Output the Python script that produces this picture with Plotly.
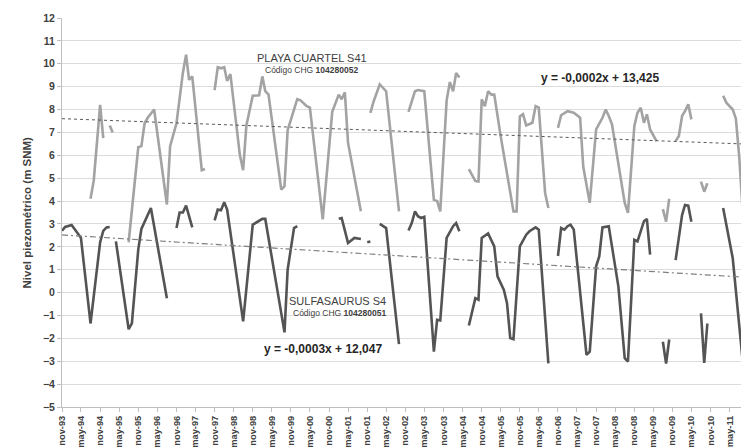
import pandas as pd
import plotly.graph_objects as go

# ---------------- data (months counted from nov-1993) ----------------
START = pd.Timestamp("1993-11-01")
END = pd.Timestamp("2011-08-19")

playa_month = [9, 10, 12, 13, None, 15, 16, None,
               21, 24, 25, 26, 27, 29, 33, 34, 36, 37, 38, 39, 40, 41, 44, 45, None,
               48, 49, 50, 51, 52, 53, 56, 57, 58, 60, 62, 63, 64, 65, 69, 70, 71, 74, 75, 77, 78,
               82, 85, 87, 88, 89, 90, 94, None,
               97, 98, 100, 102, 106, None,
               109, 111, 112, 114, 117, 118, 119, 121, 122, 123, 124, 125, None,
               128, 130, 131, 132, 133, 134, 135, 136, 138, 142, 143, 144, 145, 146, 148, 149, 150,
               152, 153, None,
               156, 157, 159, 161, 163, 164, 166, 168, 170, 171, 172, 173, 177, 178, 180, 181, 182,
               183, 184, 185, 187, None,
               189, 190, 191, None,
               193, 194, 195, 196, 197, 198, None,
               201, 202, 203, None,
               208, 209, 210, 211, 212, 213, 214]
playa_level = [4.1, 4.9, 8.2, 6.75, None, 7.3, 7.0, None,
               2.2, 6.35, 6.4, 7.4, 7.65, 8.0, 3.85, 6.4, 7.4, 8.6, 9.6, 10.4, 9.3, 9.45, 5.35, 5.4, None,
               8.85, 9.85, 9.8, 9.85, 9.25, 9.55, 6.0, 5.35, 7.3, 8.6, 8.62, 9.45, 8.8, 8.65, 4.5, 4.65,
               7.1, 8.45, 8.4, 8.15, 8.08, 3.2, 7.9, 8.65, 8.45, 8.75, 6.55, 3.55, None,
               7.85, 8.35, 9.1, 8.8, 3.55, None,
               7.9, 8.8, 8.85, 8.8, 4.05, 4.0, 3.55, 8.4, 9.2, 8.8, 9.6, 9.4, None,
               5.4, 4.87, 4.85, 8.45, 8.15, 8.8, 8.65, 8.65, 6.85, 3.55, 3.55, 7.7, 7.8, 7.3, 7.42,
               8.15, 8.08, 4.35, 3.7, None,
               7.2, 7.75, 7.93, 7.86, 7.64, 5.5, 3.92, 7.13, 7.64, 8.0, 7.72, 7.35, 3.92, 3.48, 7.28,
               7.86, 8.08, 7.42, 7.79, 7.13, 6.62, None,
               3.65, 3.1, 4.1, None,
               6.62, 6.84, 7.72, 7.93, 8.23, 7.57, None,
               4.85, 4.41, 4.78, None,
               8.6, 8.3, 8.15, 8.0, 7.6, 6.0, 3.8]

sulfa_month = [0, 1, 3, 5, 6, 9, 12, 13, 14, 15, None,
               17, 21, 22, 24, 25, 26, 28, 33, None,
               36, 37, 38, 39, 41, None,
               48, 49, 50, 51, 52, 57, 60, 63, 64, 70, 71, 73, 74, None,
               87, 88, 90, 92, 94, None,
               96, 97, None,
               100, 102, 106, None,
               109, 110, 111, 112, 113, 114, 117, 118, 119, 121, 123, 124, 125, None,
               128, 130, 131, 132, 134, 135, 136, 137, 139, 140, 141, 142, 144, 146, 147, 149, 150,
               153, None,
               156, 157, 158, 159, 160, 161, 165, 166, 168, 169, 170, 172, 175, 177, 178, 180, 181,
               183, 184, 185, None,
               189, 190, 191, None,
               193, 195, 196, 197, 198, None,
               201, 202, 203, None,
               208, 211, 214]
sulfa_level = [2.7, 2.87, 2.95, 2.55, 2.4, -1.35, 2.2, 2.7, 2.85, 2.87, None,
               2.24, -1.6, -1.35, 1.88, 2.78, 3.12, 3.7, -0.25, None,
               2.82, 3.5, 3.5, 3.8, 2.85, None,
               3.16, 3.63, 3.6, 3.95, 3.63, -1.26, 2.97, 3.22, 3.22, -1.74, 1.0, 2.82, 2.9, None,
               3.23, 3.26, 2.17, 2.39, 2.34, None,
               2.2, 2.23, None,
               3.0, 2.82, -2.25, None,
               2.71, 3.04, 3.55, 3.34, 3.26, 3.31, -2.58, -1.19, -1.22, 2.39, 2.9, 3.04, 2.68, None,
               -1.44, -0.24, -0.31, 2.39, 2.58, 2.31, 2.02, 0.71, 0.12, -0.46, -1.99, -2.04, 2.02,
               2.53, 2.68, 2.85, 2.75, -3.09, None,
               1.6, 2.82, 2.75, 2.9, 2.97, 2.75, -2.72, -2.58, 1.15, 1.58, 2.85, 2.9, 0.27, -2.87,
               -3.01, 2.31, 2.24, 3.12, 3.22, 1.66, None,
               -2.15, -3.1, -2.05, None,
               1.42, 3.39, 3.83, 3.8, 3.1, None,
               -0.91, -3.07, -1.35, None,
               3.7, 1.5, -2.85]

# linear trend lines (start / end values as drawn)
playa_trend = [7.6, 6.5]
sulfa_trend = [2.52, 0.68]

MESES = {1: "ene", 2: "feb", 3: "mar", 4: "abr", 5: "may", 6: "jun",
         7: "jul", 8: "ago", 9: "sep", 10: "oct", 11: "nov", 12: "dic"}
tick_months = list(range(0, 211, 6))


def to_dates(months):
    return [None if m is None else (START + pd.DateOffset(months=m)).strftime("%Y-%m-%d")
            for m in months]


tick_dates = to_dates(tick_months)
tick_text = [f"{MESES[d.month]}-{d.strftime('%y')}"
             for d in (START + pd.DateOffset(months=m) for m in tick_months)]
x_ends = [START.strftime("%Y-%m-%d"), END.strftime("%Y-%m-%d")]

FONT = "Liberation Sans, Arial, sans-serif"
TXT = "#404040"

fig = go.Figure()
fig.add_trace(go.Scatter(x=to_dates(playa_month), y=playa_level, mode="lines",
                         line=dict(color="#a3a3a3", width=2.6), connectgaps=False,
                         name="PLAYA CUARTEL S41"))
fig.add_trace(go.Scatter(x=to_dates(sulfa_month), y=sulfa_level, mode="lines",
                         line=dict(color="#545454", width=2.6), connectgaps=False,
                         name="SULFASAURUS S4"))
fig.add_trace(go.Scatter(x=x_ends, y=playa_trend, mode="lines",
                         line=dict(color="#595959", width=1, dash="dot")))
fig.add_trace(go.Scatter(x=x_ends, y=sulfa_trend, mode="lines",
                         line=dict(color="#7f7f7f", width=1.2, dash="6px,3px,2px,3px")))

annots = [
    dict(x=0.368, y=0.897, text="PLAYA CUARTEL S41", font=dict(size=11, color=TXT)),
    dict(x=0.368, y=0.866, text="Código CHG <b>104280052</b>", font=dict(size=8.5, color=TXT)),
    dict(x=0.792, y=0.846, text="<b>y = -0,0002x + 13,425</b>", font=dict(size=12, color="#262626")),
    dict(x=0.406, y=0.273, text="SULFASAURUS S4", font=dict(size=11, color=TXT)),
    dict(x=0.408, y=0.242, text="Código CHG <b>104280051</b>", font=dict(size=8.5, color=TXT)),
    dict(x=0.384, y=0.148, text="<b>y = -0,0003x + 12,047</b>", font=dict(size=12, color="#262626")),
]
for a in annots:
    fig.add_annotation(xref="paper", yref="paper", showarrow=False, xanchor="center",
                       yanchor="middle", font_family=FONT, **a)

fig.add_annotation(xref="paper", yref="paper", x=0, y=0.5, xshift=-36, showarrow=False,
                   text="<b>Nivel piezométrico (m SNM)</b>", textangle=-90,
                   font=dict(family=FONT, size=11.5, color=TXT), xanchor="center", yanchor="middle")

fig.update_layout(
    width=741, height=448,
    margin=dict(l=62, r=0, t=18, b=41, autoexpand=False),
    paper_bgcolor="white", plot_bgcolor="white",
    showlegend=False,
    font=dict(family=FONT, color=TXT),
    xaxis=dict(type="date", range=x_ends,
               tickmode="array", tickvals=tick_dates, ticktext=tick_text, tickangle=-90,
               tickfont=dict(size=9.3, color=TXT, weight="bold"), showgrid=False, showline=True,
               linecolor="#bfbfbf", ticks="outside", ticklen=4, tickcolor="#bfbfbf",
               zeroline=False, automargin=False),
    yaxis=dict(range=[-5, 12], dtick=1, tickfont=dict(size=10.5, color=TXT, weight="bold"),
               gridcolor="#dcdcdc", showline=True, linecolor="#bfbfbf", ticks="outside",
               ticklen=4, tickcolor="#bfbfbf", zeroline=False, automargin=False),
)

# remove the page's default body margin so the figure sits at the window origin
fig.write_html("out.html", config={"displayModeBar": False},
               post_script="document.body.style.margin='0';document.body.style.overflow='hidden';")
